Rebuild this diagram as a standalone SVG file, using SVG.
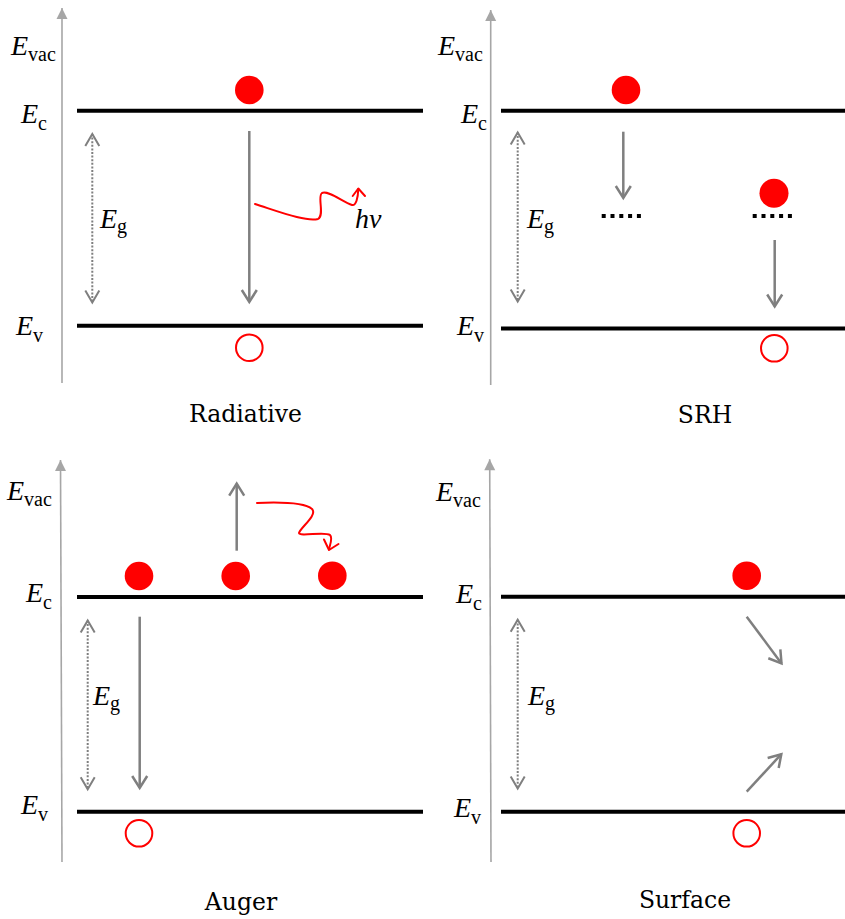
<svg xmlns="http://www.w3.org/2000/svg" width="845" height="919" viewBox="0 0 845 919">
<style>
.axis{stroke:#a6a6a6;stroke-width:1.6;fill:none}
.band{stroke:#000;stroke-width:4;fill:none}
.arr{stroke:#7f7f7f;stroke-width:2.5;fill:none}
.gap{stroke:#7f7f7f;stroke-width:2;stroke-dasharray:2 1.6;fill:none}
.trap{stroke:#000;stroke-width:4;stroke-dasharray:4 4.8;fill:none}
.wave{stroke:#ff0000;stroke-width:2;fill:none;stroke-linecap:round;stroke-linejoin:round}
.el{fill:#ff0000}
.hole{fill:none;stroke:#ff0000;stroke-width:2}
.E{font-family:"Liberation Serif",serif;font-style:italic;font-size:28px;fill:#000}
.sub{font-family:"Liberation Serif",serif;font-style:normal;font-size:20px}
.title{font-family:"DejaVu Serif",serif;font-size:23.5px;fill:#000;text-anchor:middle}
</style>
<defs>
<marker id="axh" markerUnits="userSpaceOnUse" markerWidth="14" markerHeight="14" viewBox="-12 -7 14 14" refX="0" refY="0" orient="auto">
<path d="M0,0 L-11,-5.5 L-11,5.5 Z" fill="#a6a6a6"/>
</marker>
<marker id="chev" markerUnits="userSpaceOnUse" markerWidth="22" markerHeight="22" viewBox="-16 -11 22 22" refX="0" refY="0" orient="auto">
<path d="M-12,-7.5 L0,0 L-12,7.5" fill="none" stroke="#7f7f7f" stroke-width="2.5"/>
</marker>
<marker id="chevd" markerUnits="userSpaceOnUse" markerWidth="22" markerHeight="22" viewBox="-16 -11 22 22" refX="0" refY="0" orient="auto-start-reverse">
<path d="M-12,-7 L0,0 L-12,7" fill="none" stroke="#7f7f7f" stroke-width="2"/>
</marker>
</defs>

<!-- Panel 1: Radiative -->
<g id="rad-axis"><line class="axis" x1="62" y1="383" x2="62" y2="8" marker-end="url(#axh)"/></g>
<g id="rad-Ec"><line class="band" x1="77" y1="110.7" x2="423" y2="110.7"/></g>
<g id="rad-Ev"><line class="band" x1="77" y1="325.8" x2="423" y2="325.8"/></g>
<g id="rad-electron"><circle class="el" cx="249.3" cy="90" r="14.3"/></g>
<g id="rad-hole"><circle class="hole" cx="249.3" cy="347.7" r="13.3"/></g>
<g id="rad-labels">
<text class="E" x="11" y="55">E<tspan class="sub" dy="6">vac</tspan></text>
<text class="E" x="21" y="123">E<tspan class="sub" dy="6.5">c</tspan></text>
<text class="E" x="100" y="228">E<tspan class="sub" dy="5">g</tspan></text>
<text class="E" x="16" y="335">E<tspan class="sub" dy="6.5">v</tspan></text>
<text class="E" x="355" y="228">hν</text>
<text class="title" x="245.5" y="421.5">Radiative</text>
</g>

<!-- Panel 2: SRH -->
<g id="srh-axis"><line class="axis" x1="490.7" y1="385" x2="490.7" y2="10" marker-end="url(#axh)"/></g>
<g id="srh-Ec"><line class="band" x1="501" y1="110.7" x2="845" y2="110.7"/></g>
<g id="srh-Ev"><line class="band" x1="501" y1="328.5" x2="845" y2="328.5"/></g>
<g id="srh-electron1"><circle class="el" cx="626" cy="90" r="14.3"/></g>
<g id="srh-trap1"><line class="trap" x1="601.7" y1="216" x2="642" y2="216"/></g>
<g id="srh-electron2"><circle class="el" cx="774" cy="193.3" r="14.5"/></g>
<g id="srh-trap2"><line class="trap" x1="752.7" y1="216" x2="793" y2="216"/></g>
<g id="srh-hole"><circle class="hole" cx="774.3" cy="348.3" r="13.3"/></g>
<g id="srh-labels">
<text class="E" x="438" y="55">E<tspan class="sub" dy="6">vac</tspan></text>
<text class="E" x="461" y="123">E<tspan class="sub" dy="6.5">c</tspan></text>
<text class="E" x="527" y="228">E<tspan class="sub" dy="5">g</tspan></text>
<text class="E" x="457" y="335">E<tspan class="sub" dy="6.5">v</tspan></text>
<text class="title" x="705" y="423">SRH</text>
</g>

<!-- Panel 3: Auger -->
<g id="aug-axis"><line class="axis" x1="62" y1="862" x2="60.5" y2="460" marker-end="url(#axh)"/></g>
<g id="aug-Ec"><line class="band" x1="77" y1="597" x2="423" y2="597"/></g>
<g id="aug-Ev"><line class="band" x1="77" y1="811.7" x2="423" y2="811.7"/></g>
<g id="aug-electron1"><circle class="el" cx="139" cy="576" r="14.3"/></g>
<g id="aug-electron2"><circle class="el" cx="235.7" cy="576" r="14.3"/></g>
<g id="aug-electron3"><circle class="el" cx="332.3" cy="575.7" r="14.3"/></g>
<g id="aug-hole"><circle class="hole" cx="139" cy="833.3" r="13.3"/></g>
<g id="aug-labels">
<text class="E" x="7" y="500">E<tspan class="sub" dy="6">vac</tspan></text>
<text class="E" x="26" y="602">E<tspan class="sub" dy="6.5">c</tspan></text>
<text class="E" x="93" y="705">E<tspan class="sub" dy="5">g</tspan></text>
<text class="E" x="21" y="814">E<tspan class="sub" dy="6.5">v</tspan></text>
<text class="title" x="241" y="910">Auger</text>
</g>

<!-- Panel 4: Surface -->
<g id="surf-axis"><line class="axis" x1="491" y1="862" x2="489.7" y2="459.3" marker-end="url(#axh)"/></g>
<g id="surf-Ec"><line class="band" x1="501" y1="596.7" x2="845" y2="596.7"/></g>
<g id="surf-Ev"><line class="band" x1="501" y1="811.7" x2="845" y2="811.7"/></g>
<g id="surf-electron"><circle class="el" cx="746.7" cy="575.7" r="14.3"/></g>
<g id="surf-hole"><circle class="hole" cx="746.7" cy="833.3" r="13.3"/></g>
<g id="surf-labels">
<text class="E" x="436" y="501">E<tspan class="sub" dy="6">vac</tspan></text>
<text class="E" x="456" y="603">E<tspan class="sub" dy="6.5">c</tspan></text>
<text class="E" x="528" y="705">E<tspan class="sub" dy="5">g</tspan></text>
<text class="E" x="454" y="817">E<tspan class="sub" dy="6.5">v</tspan></text>
<text class="title" x="685" y="908">Surface</text>
</g>

<!-- Connectors -->
<g id="connectors">
<line class="gap" x1="92.3" y1="134" x2="92.3" y2="302.5" marker-start="url(#chevd)" marker-end="url(#chevd)"/>
<line class="gap" x1="517.7" y1="132.5" x2="517.7" y2="301.5" marker-start="url(#chevd)" marker-end="url(#chevd)"/>
<line class="gap" x1="87.7" y1="620.5" x2="87.7" y2="789.2" marker-start="url(#chevd)" marker-end="url(#chevd)"/>
<line class="gap" x1="517.7" y1="619.8" x2="517.7" y2="788.5" marker-start="url(#chevd)" marker-end="url(#chevd)"/>

<line class="arr" x1="249.3" y1="131" x2="249.3" y2="302" marker-end="url(#chev)"/>
<line class="arr" x1="623.3" y1="131.7" x2="623.3" y2="198" marker-end="url(#chev)"/>
<line class="arr" x1="774.7" y1="240" x2="774.7" y2="306.5" marker-end="url(#chev)"/>
<line class="arr" x1="139.7" y1="616.7" x2="139.7" y2="788" marker-end="url(#chev)"/>
<line class="arr" x1="236.7" y1="550.7" x2="236.7" y2="483.7" marker-end="url(#chev)"/>
<line class="arr" x1="746.7" y1="616.7" x2="781.5" y2="663.4" marker-end="url(#chev)"/>
<line class="arr" x1="746.7" y1="791.7" x2="781.3" y2="754.2" marker-end="url(#chev)"/>

<path class="wave" d="M255,204 C280,212 306,222 318,219 C325,215 317,196 322,193 C328,190 343,202 352,205 C356,206 358,198 358.3,189"/>
<polyline class="wave" points="352.7,196 358.3,188.5 365,196"/>
<path class="wave" d="M257,503 C280,502 305,503 312,509 C318,515 300,528 299,533 C300,537 325,531 330,535 C333,538 330,545 329,549"/>
<polyline class="wave" points="324,539.5 329,550 338.5,544"/>
</g>
</svg>
